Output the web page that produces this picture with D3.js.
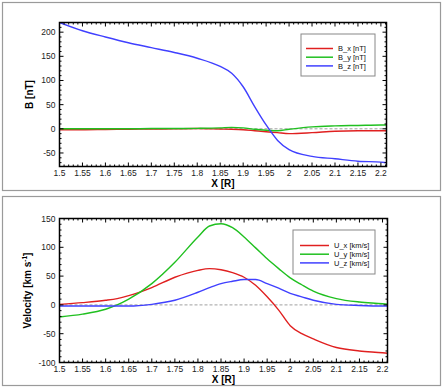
<!DOCTYPE html>
<html><head><meta charset="utf-8">
<script src="https://cdn.jsdelivr.net/npm/d3@7"></script>
<style>
body{margin:0;background:#fff;}
svg{display:block;font-family:"Liberation Sans",Arial,sans-serif;}
</style></head><body>
<svg id="c" width="443" height="388"></svg>
<script>
// ---- data ----
const xTicks = [1.5,1.55,1.6,1.65,1.7,1.75,1.8,1.85,1.9,1.95,2,2.05,2.1,2.15,2.2];
const xTickLabels = ["1.5","1.55","1.6","1.65","1.7","1.75","1.8","1.85","1.9","1.95","2","2.05","2.1","2.15","2.2"];
const bTicks = [-50,0,50,100,150,200];
const uTicks = [-100,-50,0,50,100,150];

const bX = [1.5,1.55,1.6,1.65,1.7,1.75,1.8,1.85,1.875,1.9,1.925,1.95,1.975,2.0,2.05,2.1,2.15,2.2,2.212];
const bx = [-2,-2,-1.5,-1,-0.5,0,0.5,-0.5,-1,-2,-4,-6,-8,-10,-8,-5,-4,-4,-4];
const by = [0,0,0,0,0.5,0.5,1,2,3,2,-1,-3,-4,-1,4,6,7,8,8];
const bz = [220,203,190,178,168,158,146,129,115,87,46,8,-24,-43,-57,-62,-67,-69,-70];

const uX = [1.5,1.55,1.6,1.625,1.65,1.7,1.75,1.8,1.825,1.85,1.875,1.9,1.925,1.95,1.975,2.0,2.025,2.05,2.1,2.15,2.2,2.212];
const ux = [1,4,8,11,16,30,48,60,63,61,56,48,34,14,-9,-36,-50,-59,-74,-80,-83,-84];
const uy = [-21,-16,-7.5,0,10,37,74,118,137,141,134,118,99,80,63,47,35,24,11,5,2,1];
const uz = [-2,-2,-2,-2,-2,1,8,22,30,37,41,44,44,37,29,20,14,8,1,-1,-2,-2];

const bNames = ["B_x [nT]","B_y [nT]","B_z [nT]"];
const uNames = ["U_x [km/s]","U_y [km/s]","U_z [km/s]"];
const colors = ["#e02020","#20c020","#4040ff"];

const svg = d3.select("#c");

function panel(cfg){
  const g = svg.append("g");
  g.append("rect").attr("x",cfg.frame[0]+0.5).attr("y",cfg.frame[1]+0.5)
    .attr("width",cfg.frame[2]-cfg.frame[0]).attr("height",cfg.frame[3]-cfg.frame[1])
    .attr("fill","none").attr("stroke","#9a9a9a").attr("stroke-width",1.2);
  const x = d3.scaleLinear().domain(cfg.xdom).range([cfg.L,cfg.R]);
  const y = d3.scaleLinear().domain(cfg.ydom).range([cfg.B,cfg.T]);
  const clipId = "clip"+cfg.id;
  g.append("clipPath").attr("id",clipId).append("rect")
    .attr("x",cfg.L).attr("y",cfg.T).attr("width",cfg.R-cfg.L).attr("height",cfg.B-cfg.T);
  g.append("line").attr("x1",cfg.L).attr("x2",cfg.R).attr("y1",y(0)).attr("y2",y(0))
    .attr("stroke","#888").attr("stroke-width",0.8).attr("stroke-dasharray","3,2");
  const line = d3.line().x(d=>x(d[0])).y(d=>y(d[1])).curve(d3.curveMonotoneX);
  const lines = g.append("g").attr("clip-path",`url(#${clipId})`);
  cfg.series.forEach((s,i)=>{
    lines.append("path").datum(cfg.xs.map((v,j)=>[v,s[j]]))
      .attr("d",line).attr("fill","none").attr("stroke",colors[i]).attr("stroke-width",1.4);
  });
  const xMinor = d3.range(150,222,1).map(v=>v/100);
  const yMinor = d3.range(cfg.ydom[0] - (cfg.ydom[0]%10), cfg.ydom[1]+1, 10);
  const ax = g.append("g").attr("stroke","#000");
  xMinor.forEach(v=>{ if(v<=cfg.xdom[1]){
    const major = Math.abs(v*20-Math.round(v*20))<1e-6;
    const len = major?4:2;
    ax.append("line").attr("x1",x(v)).attr("x2",x(v)).attr("y1",cfg.B).attr("y2",cfg.B-len).attr("stroke-width",1);
    ax.append("line").attr("x1",x(v)).attr("x2",x(v)).attr("y1",cfg.T).attr("y2",cfg.T+len).attr("stroke-width",1);
  }});
  yMinor.forEach(v=>{ if(v>=cfg.ydom[0] && v<=cfg.ydom[1]){
    const major = v%50===0;
    const len = major?4:2;
    ax.append("line").attr("x1",cfg.L).attr("x2",cfg.L+len).attr("y1",y(v)).attr("y2",y(v)).attr("stroke-width",1);
    ax.append("line").attr("x1",cfg.R).attr("x2",cfg.R-len).attr("y1",y(v)).attr("y2",y(v)).attr("stroke-width",1);
  }});
  g.append("rect").attr("x",cfg.L).attr("y",cfg.T).attr("width",cfg.R-cfg.L).attr("height",cfg.B-cfg.T)
    .attr("fill","none").attr("stroke","#000").attr("stroke-width",1.5);
  xTicks.forEach((v,i)=>{
    g.append("text").attr("x",x(v)).attr("y",cfg.B+9).attr("text-anchor","middle")
      .attr("font-size",8.5).attr("fill","#222").text(xTickLabels[i]);
  });
  cfg.yticks.forEach(v=>{
    g.append("text").attr("x",cfg.L-4).attr("y",y(v)+3).attr("text-anchor","end")
      .attr("font-size",8.5).attr("fill","#222").text(v);
  });
  g.append("text").attr("x",(cfg.L+cfg.R)/2).attr("y",cfg.B+20).attr("text-anchor","middle")
    .attr("font-size",10).attr("font-weight","bold").text("X [R]");
  const yt = g.append("text").attr("transform",`translate(${cfg.ytx},${(cfg.T+cfg.B)/2}) rotate(-90)`)
    .attr("text-anchor","middle").attr("font-size",10).attr("font-weight","bold");
  cfg.ytitle(yt);
  const lg = cfg.legend;
  g.append("rect").attr("x",lg.x).attr("y",lg.y).attr("width",lg.w).attr("height",lg.h)
    .attr("fill","#fff").attr("stroke","#888").attr("stroke-width",1);
  cfg.names.forEach((n,i)=>{
    const yy = lg.y+lg.r0+i*8.7;
    g.append("line").attr("x1",lg.x+lg.l0).attr("x2",lg.x+lg.l1).attr("y1",yy).attr("y2",yy)
      .attr("stroke",colors[i]).attr("stroke-width",1.5);
    g.append("text").attr("x",lg.x+lg.t0).attr("y",yy+2.8).attr("font-size",7.5)
      .attr("fill","#111").text(n);
  });
}

panel({id:1, frame:[2,2,440,190], L:59.5, R:386.5, T:22.5, B:166.5,
  xdom:[1.5,2.2122], ydom:[-78,220], yticks:bTicks, xs:bX, series:[bx,by,bz], names:bNames,
  ytx:33, ytitle:t=>t.text("B [nT]"),
  legend:{x:301,y:34,w:74,h:42,l0:5,l1:32,t0:37,r0:14.5}});

panel({id:2, frame:[2,196,440,385], L:59.5, R:387.5, T:218.5, B:362.5,
  xdom:[1.5,2.2108], ydom:[-100,150], yticks:uTicks, xs:uX, series:[ux,uy,uz], names:uNames,
  ytx:31, ytitle:t=>{t.append("tspan").text("Velocity [km s");
    t.append("tspan").attr("dy",-4).attr("font-size",6.5).text("-1");
    t.append("tspan").attr("dy",4).text("]");},
  legend:{x:293,y:230,w:82,h:44,l0:7,l1:36,t0:41,r0:15.5}});
</script>
</body></html>
